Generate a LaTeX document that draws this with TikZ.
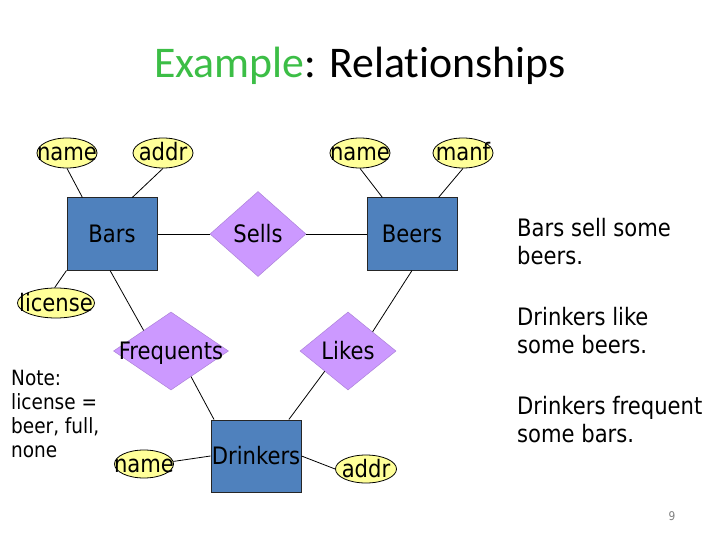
\documentclass[tikz,border=0pt]{standalone}
\usepackage{fontspec}
\setmainfont{DejaVu Sans}[FakeStretch=0.88]
\newfontfamily\titlefont{Carlito}[Ligatures={NoCommon,NoRare,NoDiscretionary}]
\usetikzlibrary{shapes.geometric}
\definecolor{attrfill}{RGB}{255,255,153}
\definecolor{entfill}{RGB}{79,129,189}
\definecolor{relfill}{RGB}{204,153,255}
\definecolor{titlegreen}{RGB}{60,190,70}
\begin{document}
\begin{tikzpicture}[x=1pt,y=-1pt,
  lbl/.style={font=\fontsize{24}{28}\selectfont, text height=16pt, text depth=0pt, inner sep=0pt},
  attr/.style={lbl, ellipse, draw=black, line width=0.8pt, fill=attrfill, minimum width=60pt, minimum height=30pt},
  ent/.style={lbl, rectangle, draw=black!85, line width=1pt, fill=entfill, minimum width=90pt, minimum height=72pt},
  rel/.style={lbl, diamond, draw=relfill!85!black, line width=0.5pt, fill=relfill, minimum width=96pt, minimum height=85pt},
  conn/.style={line width=0.8pt},
  side/.style={anchor=north west, align=left, inner sep=0pt, font=\fontsize{24}{28}\selectfont}]
\path[use as bounding box, fill=white] (0,0) rectangle (720,540);

\node[anchor=base, inner sep=0pt] (title) at (360,78) {\titlefont\fontsize{43.8}{50}\selectfont\textcolor{titlegreen}{Example}: Relat\kern0pt ionships};

% entities
\node[ent] (bars) at (112,234) {\makebox[0pt]{Bars}};
\node[ent] (beers) at (412,234) {\makebox[0pt]{Beers}};
\node[ent] (drinkers) at (256,456) {\makebox[0pt]{Drinkers}};

% relationships
\node[rel] (sells) at (258,234) {\makebox[0pt]{Sells}};
\node[rel, minimum width=115pt, minimum height=78pt] (freq) at (171,351) {\makebox[0pt]{Frequents}};
\node[rel, minimum height=78pt] (likes) at (348,351) {\makebox[0pt]{Likes}};

% attributes
\node[attr] (bname) at (67,153) {\makebox[0pt]{name}};
\node[attr] (baddr) at (163,153) {\makebox[0pt]{addr}};
\node[attr, minimum width=77pt] (lic) at (56,303) {\makebox[0pt]{license}};
\node[attr] (bename) at (360,153) {\makebox[0pt]{name}};
\node[attr] (manf) at (463,153) {\makebox[0pt]{manf}};
\node[attr, minimum width=59pt, minimum height=28pt] (dname) at (144,464) {\makebox[0pt]{name}};
\node[attr, minimum width=61pt, minimum height=28pt] (daddr) at (366,469) {\makebox[0pt]{addr}};

% connectors
\draw[conn] (bname.south) -- (bars.129);
\draw[conn] (baddr.south) -- (bars.61);
\draw[conn] (lic.95) -- (bars.south west);
\draw[conn] (bars.east) -- (sells.west);
\draw[conn] (sells.east) -- (beers.west);
\draw[conn] (bename.south) -- (beers.129);
\draw[conn] (manf.south) -- (beers.54);
\draw[conn] (bars.-93) -- (freq.143);
\draw[conn] (freq.-52) -- (drinkers.139);
\draw[conn] (beers.south) -- (likes.38);
\draw[conn] (likes.-139) -- (drinkers.48);
\draw[conn] (dname.5) -- (drinkers.west);
\draw[conn] (drinkers.east) -- (daddr.west);

% notes
\node[anchor=north west, align=left, inner sep=0pt, font=\fontsize{21}{24}\selectfont] (note) at (11,370) {Note:\\license =\\beer, full,\\none};
\node[side] (t1) at (517,218) {Bars sell some\\beers.};
\node[side] (t2) at (517,307) {Drinkers like\\some beers.};
\node[side] (t3) at (517,396) {Drinkers frequent\\some bars.};

\node[anchor=base, inner sep=0pt, font=\fontsize{12}{14}\selectfont, text=gray] (pg) at (672,520) {9};
\end{tikzpicture}
\end{document}
